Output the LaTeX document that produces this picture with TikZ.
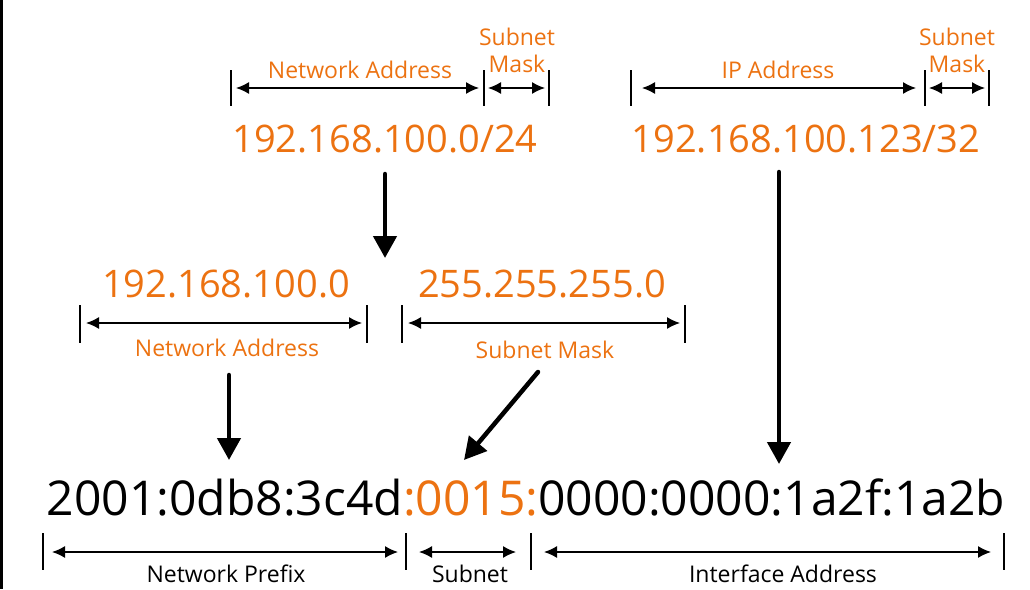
\documentclass[tikz,border=0pt]{standalone}
\usepackage{fontspec}
\setmainfont{Open Sans}
\usetikzlibrary{arrows.meta}
\definecolor{aws}{RGB}{236,114,17}
\begin{document}
\begin{tikzpicture}[x=1pt,y=-1pt,
  dim/.style={line width=1.4pt,{Latex[length=13pt,width=12pt]}-{Latex[length=13pt,width=12pt]}},
  tickline/.style={line width=1.6pt},
  big/.style={line width=4.5pt,line cap=round,-{Triangle[length=22pt,width=23pt]}},
  olbl/.style={text=aws,font=\fontsize{23}{27}\selectfont,inner sep=0pt,anchor=base},
  blbl/.style={text=black,font=\fontsize{23}{27}\selectfont,inner sep=0pt,anchor=base},
  num/.style={text=aws,font=\fontsize{38}{44}\selectfont,inner sep=0pt,anchor=base},
  ipsix/.style={text=black,font=\fontsize{48}{56}\selectfont,inner sep=0pt,anchor=base}]
\useasboundingbox (0,0) rectangle (1030,589);
\fill[black] (0,0) rectangle (3,589);

% ---------- top left: CIDR /24 ----------
\node[olbl] (na1) at (360,78) {Network Address};
\node[olbl] (sm1a) at (517,45) {Subnet};
\node[olbl] (sm1b) at (517,72) {Mask};
\node[num] (cidr24) at (385,152) {192.168.100.0/24};
\draw[tickline] (231,70) -- (231,106);
\draw[tickline] (484,70) -- (484,106);
\draw[tickline] (549,70) -- (549,106);
\coordinate (d1a) at (236,88); \coordinate (d1b) at (479,88);
\coordinate (d2a) at (488,88); \coordinate (d2b) at (545,88);
\draw[dim] (d1a) -- (d1b);
\draw[dim] (d2a) -- (d2b);

% ---------- top right: CIDR /32 ----------
\node[olbl] (ipa) at (778,78) {IP Address};
\node[olbl] (sm2a) at (957,45) {Subnet};
\node[olbl] (sm2b) at (957,72) {Mask};
\node[num] (cidr32) at (806,152) {192.168.100.123/32};
\draw[tickline] (631,70) -- (631,106);
\draw[tickline] (925,70) -- (925,106);
\draw[tickline] (989,70) -- (989,106);
\coordinate (d3a) at (642,88); \coordinate (d3b) at (916,88);
\coordinate (d4a) at (929,88); \coordinate (d4b) at (985,88);
\draw[dim] (d3a) -- (d3b);
\draw[dim] (d4a) -- (d4b);

% ---------- middle row ----------
\node[num] (netv) at (226,297) {192.168.100.0};
\node[num] (maskv) at (542,297) {255.255.255.0};
\node[olbl] (na2) at (227,356) {Network Address};
\node[olbl] (sm3) at (545,358) {Subnet Mask};
\draw[tickline] (80,305) -- (80,343);
\draw[tickline] (367,305) -- (367,343);
\draw[tickline] (402,305) -- (402,343);
\draw[tickline] (685,305) -- (685,343);
\coordinate (d5a) at (86,323); \coordinate (d5b) at (362,323);
\coordinate (d6a) at (408,323); \coordinate (d6b) at (680,323);
\draw[dim] (d5a) -- (d5b);
\draw[dim] (d6a) -- (d6b);

% ---------- IPv6 ----------
\node[ipsix] (v6) at (526,515) {2001:0db8:3c4d\textcolor{aws}{:0015:}0000:0000:1a2f:1a2b};
\node[blbl] (np) at (226,582) {Network Prefix};
\node[blbl] (sn) at (470,582) {Subnet};
\node[blbl] (ia) at (783,582) {Interface Address};
\draw[tickline] (43,533) -- (43,570);
\draw[tickline] (406,533) -- (406,570);
\draw[tickline] (531,533) -- (531,570);
\draw[tickline] (1004,533) -- (1004,570);
\coordinate (d7a) at (52,552); \coordinate (d7b) at (398,552);
\coordinate (d8a) at (419,552); \coordinate (d8b) at (516,552);
\coordinate (d9a) at (544,552); \coordinate (d9b) at (991,552);
\draw[dim] (d7a) -- (d7b);
\draw[dim] (d8a) -- (d8b);
\draw[dim] (d9a) -- (d9b);

% ---------- big arrows ----------
\coordinate (b1s) at (385,174); \coordinate (b1e) at (385,258);
\coordinate (b2s) at (229,375); \coordinate (b2e) at (229,460);
\coordinate (b3s) at (538,372); \coordinate (b3e) at (464,460);
\coordinate (b4s) at (779,172); \coordinate (b4e) at (779,464);
\draw[big] (b1s) -- (b1e);
\draw[big] (b2s) -- (b2e);
\draw[big] (b3s) -- (b3e);
\draw[big] (b4s) -- (b4e);
\end{tikzpicture}
\end{document}
